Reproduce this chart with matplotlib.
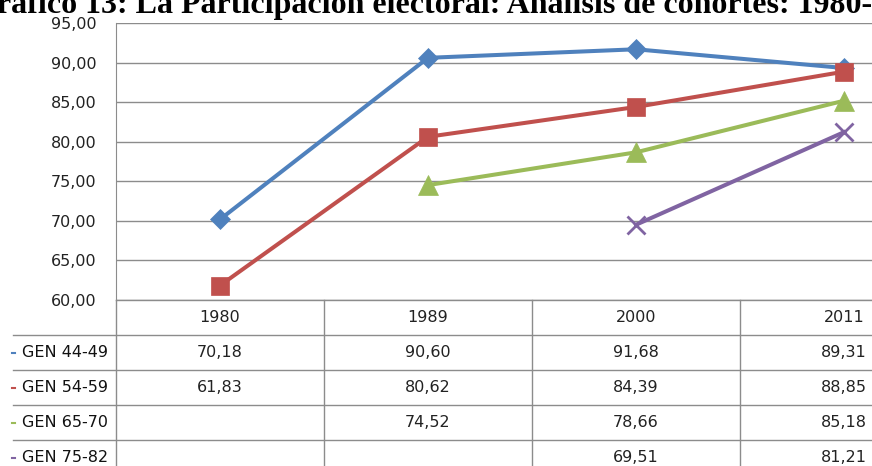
import numpy as np
import matplotlib.pyplot as plt

# Datos del gráfico (participación electoral por cohorte)
anios = ['1980', '1989', '2000', '2011']
gen_44_49 = [70.18, 90.60, 91.68, 89.31]
gen_54_59 = [61.83, 80.62, 84.39, 88.85]
gen_65_70 = [np.nan, 74.52, 78.66, 85.18]
gen_75_82 = [np.nan, np.nan, 69.51, 81.21]
nombres = ['GEN 44-49', 'GEN 54-59', 'GEN 65-70', 'GEN 75-82']
series = [gen_44_49, gen_54_59, gen_65_70, gen_75_82]

titulo = 'Gráfico 13: La Participación electoral: Análisis de cohortes: 1980-2011'

colores = ['#4F81BD', '#C0504D', '#9BBB59', '#8064A2']
marcadores = ['D', 's', '^', 'x']
tamanos = [10, 13.5, 15, 13.5]
gris = '#8c8c8c'

W, H = 872, 466
fig = plt.figure(figsize=(W / 100, H / 100), dpi=100)

# Área de trazado (se sale por la derecha como en el original recortado)
ax = fig.add_axes([116 / W, 1 - 300 / H, 832 / W, 277 / H])
x = np.arange(len(anios))
for vals, c, m, ms in zip(series, colores, marcadores, tamanos):
    ax.plot(x, vals, color=c, lw=2.9, marker=m, ms=ms, mfc=c, mec=c,
            mew=2.0 if m == 'x' else 0.5, clip_on=False, zorder=3)

ax.set_xlim(-0.5, len(anios) - 0.5)
ax.set_ylim(60, 95)
yt = np.arange(60, 96, 5)
ax.set_yticks(yt)
ax.set_yticklabels([f'{v:.2f}'.replace('.', ',') for v in yt])
ax.set_xticks([])
ax.yaxis.grid(True, color=gris, lw=1)
ax.set_axisbelow(True)
ax.tick_params(axis='y', length=0, pad=14, labelsize=11.5, labelcolor='#222222')
for s in ['top', 'right', 'bottom']:
    ax.spines[s].set_visible(False)
ax.spines['left'].set_color(gris)

# Tabla de datos bajo el gráfico
alto = 277.0
def fy(px):
    return -px / alto
def fx(px):
    return (px - 116) / 832.0

fila = 35
ax.plot([0, 1.2], [0, 0], color=gris, lw=1, transform=ax.transAxes, clip_on=False)
for k in range(1, 5):
    ax.plot([fx(13), 1.2], [fy(fila * k), fy(fila * k)], color=gris, lw=1,
            transform=ax.transAxes, clip_on=False)
for i in range(len(anios) + 1):
    ax.plot([i / 4, i / 4], [0, fy(200)], color=gris, lw=1,
            transform=ax.transAxes, clip_on=False)

for i, a in enumerate(anios):
    ax.text((i + 0.5) / 4, fy(fila / 2), a, ha='center', va='center',
            fontsize=11.5, color='#222222', transform=ax.transAxes)

for k, (nom, vals, c) in enumerate(zip(nombres, series, colores)):
    yc = fy(fila * (k + 1) + fila / 2)
    ax.text(fx(108), yc, nom, ha='right', va='center', fontsize=11.5,
            color='#111111', transform=ax.transAxes)
    ax.plot([fx(12), fx(15)], [yc, yc], color=c, lw=1.5,
            transform=ax.transAxes, clip_on=False)
    for i, v in enumerate(vals):
        if not np.isnan(v):
            ax.text((i + 0.5) / 4, yc, f'{v:.2f}'.replace('.', ','), ha='center',
                    va='center', fontsize=11.5, color='#222222',
                    transform=ax.transAxes)

# Título (recortado arriba en el original)
fig.text(-28 / W, 1 - 13 / H, titulo, ha='left', va='baseline',
         fontsize=23, fontweight='bold', family='Liberation Serif')

fig.savefig('out.png', dpi=100)
